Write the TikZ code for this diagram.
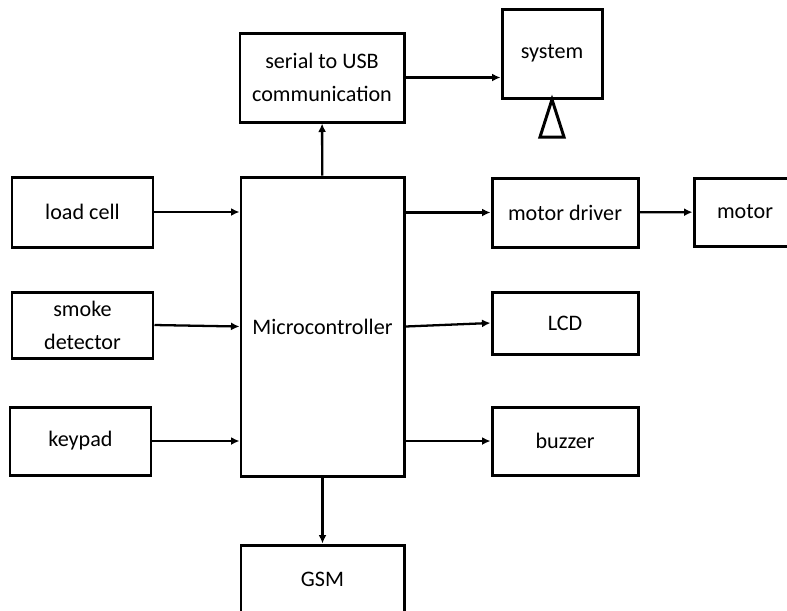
\documentclass[tikz,border=0pt]{standalone}
\usepackage{fontspec}
\setmainfont{Carlito}
\usetikzlibrary{arrows.meta}
\tikzset{
	block/.style={draw, line width=1.7pt, inner sep=0pt, align=center, font=\fontsize{12.6}{18.7}\selectfont},
	link/.style={line width=1.3pt, -{Latex[length=1.7mm, width=1.6mm]}}
}

\begin{document}
\begin{tikzpicture}[x=0.02cm, y=-0.02cm]
		%%%%% START %%%%%
		\clip (0, 0) rectangle (787, 610);
		
		\node[block, minimum width=163*0.02cm, minimum height=299*0.02cm] (micro) at (322.5, 326.5) {Microcontroller};
		
		\node[block, minimum width=164*0.02cm, minimum height=89*0.02cm] (serial) at (322, 77.5) {serial to USB\\communication};
		\node[block, minimum width=100*0.02cm, minimum height=89*0.02cm] (system) at (552, 53.5) {system};
		\draw[line width=1.7pt] (system.south) -- (564, 137) -- (540, 137) -- cycle;
		
		\node[block, minimum width=141*0.02cm, minimum height=70*0.02cm] (load) at (82.5, 212) {load cell};
		\node[block, minimum width=141*0.02cm, minimum height=66*0.02cm] (smoke) at (82.5, 325) {smoke\\detector};
		\node[block, minimum width=141*0.02cm, minimum height=68*0.02cm] (keypad) at (80.5, 441) {keypad};
		
		\node[block, minimum width=146*0.02cm, minimum height=69*0.02cm] (driver) at (565, 212.5) {motor driver};
		\node[block, minimum width=102*0.02cm, minimum height=68*0.02cm] (motor) at (745, 212) {motor};
		\node[block, minimum width=146*0.02cm, minimum height=62*0.02cm] (lcd) at (565, 323) {LCD};
		\node[block, minimum width=146*0.02cm, minimum height=68*0.02cm] (buzzer) at (565, 441) {buzzer};
		
		\node[block, minimum width=163*0.02cm, minimum height=68*0.02cm] (gsm) at (322.5, 579) {GSM};
		
		% inputs
		\draw[link] (load.east) -- (load.east -| micro.west);
		\draw[link] (smoke.east) -- (micro.west);
		\draw[link] (keypad.east) -- (keypad.east -| micro.west);
		
		% outputs
		\draw[link] (micro.east |- driver.west) -- (driver.west);
		\draw[link] (micro.east) -- (lcd.west);
		\draw[link] (micro.east |- buzzer.west) -- (buzzer.west);
		\draw[link] (driver) -- (motor);
		\draw[link] (micro) -- (serial);
		\draw[link] (micro) -- (gsm);
		\draw[link] (serial.east) -- (serial.east -| system.west);
		
		%%%%% END %%%%%
\end{tikzpicture}
\end{document}
